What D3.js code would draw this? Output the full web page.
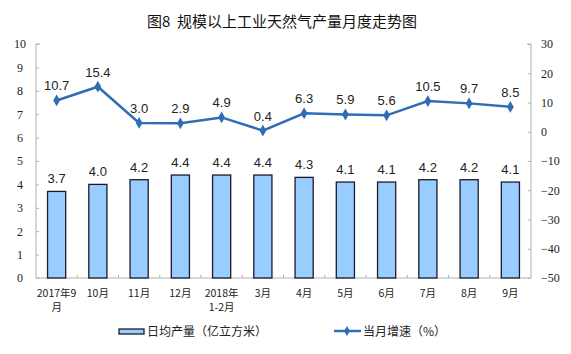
<!DOCTYPE html>
<html>
<head>
<meta charset="utf-8">
<script src="https://cdn.jsdelivr.net/npm/d3@7"></script>
<style>
body { margin: 0; background: #fff; }
svg text { font-family: "Liberation Sans", Arial, sans-serif; }
.axis path, .axis line { stroke: #b0b0b0; }
.axis text { font-family: "Liberation Serif", "Times New Roman", serif; font-size: 12px; fill: #222; }
</style>
</head>
<body>
<div id="chart"></div>
<script>
var categories = ["2017年9月", "10月", "11月", "12月", "2018年1-2月", "3月", "4月", "5月", "6月", "7月", "8月", "9月"];
var catLines = [["2017年9", "月"], ["10月"], ["11月"], ["12月"], ["2018年", "1-2月"], ["3月"], ["4月"], ["5月"], ["6月"], ["7月"], ["8月"], ["9月"]];
var output = [3.7, 4.0, 4.2, 4.4, 4.4, 4.4, 4.3, 4.1, 4.1, 4.2, 4.2, 4.1];
var growth = [10.7, 15.4, 3.0, 2.9, 4.9, 0.4, 6.3, 5.9, 5.6, 10.5, 9.7, 8.5];
var leftTicks = [0, 1, 2, 3, 4, 5, 6, 7, 8, 9, 10];
var rightTicks = [-50, -40, -30, -20, -10, 0, 10, 20, 30];

var width = 571, height = 354;
var margin = {top: 44, right: 40, bottom: 76, left: 36};
var w = width - margin.left - margin.right,
    h = height - margin.top - margin.bottom;

var svg = d3.select("#chart").append("svg")
    .attr("width", width)
    .attr("height", height);

svg.append("text")
    .attr("x", 282).attr("y", 27)
    .attr("text-anchor", "middle")
    .style("font-family", "'Noto Sans CJK SC', sans-serif")
    .style("font-size", "15px")
    .style("fill", "#111")
    .text("图8\u00a0\u00a0规模以上工业天然气产量月度走势图");

var g = svg.append("g")
    .attr("transform", "translate(" + margin.left + "," + margin.top + ")");

var x = d3.scaleBand().domain(categories).range([0, w]).paddingInner(0.56).paddingOuter(0.28);
var xb = d3.scaleBand().domain(categories).range([0, w]);
var yL = d3.scaleLinear().domain([0, 10]).range([h, 0]);
var yR = d3.scaleLinear().domain([-50, 30]).range([h, 0]);

// left axis
var la = g.append("g").attr("class", "axis")
    .call(d3.axisLeft(yL).tickValues(leftTicks).tickSize(-3).tickPadding(12));
la.select(".domain").attr("d", "M0," + h + "V0h4");
la.selectAll("text").attr("text-anchor", "middle").attr("dx", "-4");

// right axis
var ra = g.append("g").attr("class", "axis")
    .attr("transform", "translate(" + w + ",0)")
    .call(d3.axisRight(yR).tickValues(rightTicks).tickSize(-3).tickPadding(10));
ra.select(".domain").attr("d", "M0," + h + "V0h-4");

// x axis
var xa = g.append("g").attr("class", "axis")
    .attr("transform", "translate(0," + h + ")");
xa.append("line").attr("x1", 0).attr("x2", w).attr("stroke", "#b0b0b0");
xa.selectAll(".tk").data(categories.slice(1)).enter().append("line")
    .attr("x1", function(d) { return xb(d); }).attr("x2", function(d) { return xb(d); })
    .attr("y1", 0).attr("y2", -3).attr("stroke", "#b0b0b0");

var lbl = g.selectAll(".xl").data(categories).enter().append("text")
    .attr("text-anchor", "middle")
    .attr("x", function(d) { return xb(d) + xb.bandwidth() / 2; })
    .attr("y", h + 19)
    .style("font-family", "'Noto Sans CJK SC', sans-serif")
    .style("font-size", "10.5px")
    .style("fill", "#222");
lbl.selectAll("tspan").data(function(d, i) { return catLines[i]; }).enter().append("tspan")
    .attr("x", function() { var p = this.parentNode; return p.getAttribute("x"); })
    .attr("dy", function(d, i) { return i === 0 ? 0 : 14; })
    .text(function(d) { return d; });

// bars
g.selectAll(".bar").data(output).enter().append("rect")
    .attr("x", function(d, i) { return x(categories[i]); })
    .attr("y", function(d) { return yL(d); })
    .attr("width", x.bandwidth())
    .attr("height", function(d) { return h - yL(d); })
    .attr("fill", "#99ccff")
    .attr("stroke", "#1b1b2b")
    .attr("stroke-width", 1.3);

g.selectAll(".bl").data(output).enter().append("text")
    .attr("x", function(d, i) { return x(categories[i]) + x.bandwidth() / 2; })
    .attr("y", function(d) { return yL(d) - 8; })
    .attr("text-anchor", "middle")
    .style("font-size", "13px")
    .style("fill", "#222")
    .text(function(d) { return d.toFixed(1); });

// line
var cx = function(d, i) { return xb(categories[i]) + xb.bandwidth() / 2; };
var line = d3.line()
    .x(cx)
    .y(function(d) { return yR(d); });

g.append("path").datum(growth)
    .attr("d", line)
    .attr("fill", "none")
    .attr("stroke", "#2f6db5")
    .attr("stroke-width", 2.5);

g.selectAll(".pt").data(growth).enter().append("path")
    .attr("transform", function(d, i) { return "translate(" + cx(d, i) + "," + yR(d) + ")"; })
    .attr("d", d3.symbol().type(d3.symbolDiamond).size(40))
    .attr("fill", "#2f6db5");

g.selectAll(".gl").data(growth).enter().append("text")
    .attr("x", cx)
    .attr("y", function(d) { return yR(d) - 10; })
    .attr("text-anchor", "middle")
    .style("font-size", "13px")
    .style("fill", "#222")
    .text(function(d) { return d.toFixed(1); });

// legend
var lg = svg.append("g");
lg.append("rect").attr("x", 119).attr("y", 329).attr("width", 25).attr("height", 5)
    .attr("fill", "#99ccff").attr("stroke", "#1b1b2b").attr("stroke-width", 1.3);
lg.append("text").attr("x", 147).attr("y", 336)
    .style("font-family", "'Noto Sans CJK SC', sans-serif").style("font-size", "12px").style("fill", "#222")
    .text("日均产量（亿立方米）");
lg.append("line").attr("x1", 334).attr("x2", 361).attr("y1", 331).attr("y2", 331)
    .attr("stroke", "#2f6db5").attr("stroke-width", 2.5);
lg.append("path").attr("transform", "translate(347,331)")
    .attr("d", d3.symbol().type(d3.symbolDiamond).size(30)).attr("fill", "#2f6db5");
lg.append("text").attr("x", 363).attr("y", 336)
    .style("font-family", "'Noto Sans CJK SC', sans-serif").style("font-size", "12px").style("fill", "#222")
    .text("当月增速（%）");
</script>
</body>
</html>
